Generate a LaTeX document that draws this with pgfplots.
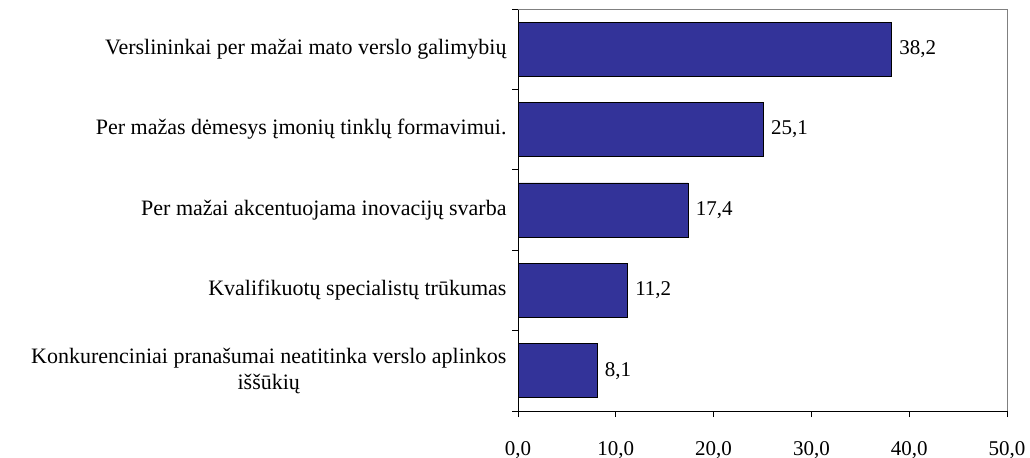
\documentclass[border=0pt]{standalone}
\usepackage{pgfplots}
\pgfplotsset{compat=1.18}
\usepackage{fontspec}
\setmainfont{Liberation Serif}
\definecolor{barblue}{RGB}{51,51,153}
\begin{document}
\fontsize{22bp}{26bp}\selectfont
\begin{tikzpicture}
\path[use as bounding box] (0,0) rectangle (1030bp,458bp);
\begin{axis}[
  at={(518bp,47bp)}, anchor=south west,
  scale only axis, width=489bp, height=402bp,
  xbar, bar width=54bp,
  xmin=0, xmax=50, ymin=-0.5, ymax=4.5,
  axis x line*=bottom, axis y line*=left,
  axis line style={black, line width=0.8pt},
  xtick={0,10,...,50},
  ytick={0,1,2,3,4},
  yticklabels={{Konkurenciniai pranašumai neatitinka verslo aplinkos\\iššūkių},
    {Kvalifikuotų specialistų trūkumas},
    {Per mažai akcentuojama inovacijų svarba},
    {Per mažas dėmesys įmonių tinklų formavimui.},
    {Verslininkai per mažai mato verslo galimybių}},
  yticklabel style={align=center, font=\fontsize{22bp}{26bp}\selectfont, xshift=2bp},
  major y tick style={draw=none},
  minor ytick={-0.5,0.5,...,4.5},
  minor tick length=6bp,
  major tick length=6bp,
  tick align=outside,
  tick style={black, line width=0.8pt},
  xticklabel style={font=\fontsize{21bp}{26bp}\selectfont, yshift=-17bp},
  /pgf/number format/assume math mode=true,
  /pgf/number format/.cd, use comma, fixed, fixed zerofill, precision=1, 1000 sep={},
  /pgfplots/.cd,
  nodes near coords,
  nodes near coords style={anchor=west, font=\fontsize{21bp}{26bp}\selectfont, /pgf/number format/.cd, use comma, fixed, fixed zerofill, precision=1, assume math mode=true},
  clip=false,
]
\addplot[fill=barblue, draw=black, line width=0.8pt] coordinates {(8.1,0) (11.2,1) (17.4,2) (25.1,3) (38.2,4)};
\draw[gray, line width=0.8pt] (rel axis cs:0,1) -- (rel axis cs:1,1) -- (rel axis cs:1,0);
\end{axis}
\end{tikzpicture}
\end{document}
